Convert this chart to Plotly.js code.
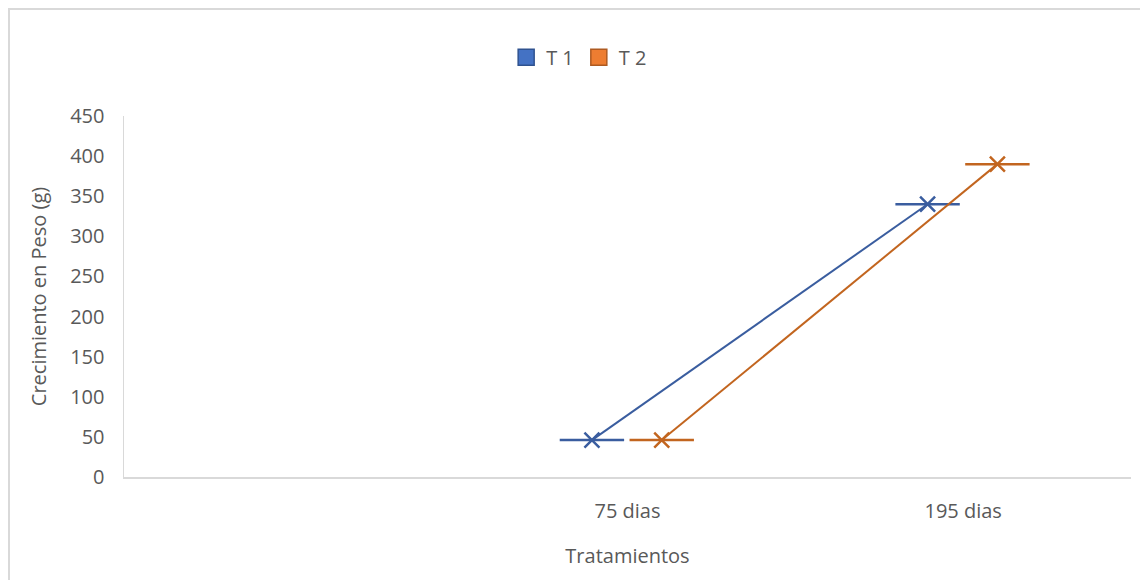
<!DOCTYPE html>
<html>
<head>
<meta charset="utf-8">
<script src="https://cdn.plot.ly/plotly-3.0.1.min.js"></script>
<style>
  html, body { margin: 0; padding: 0; background: #fff; overflow: hidden; }
  #wrap { position: relative; width: 1140px; height: 580px; }
  #chart { width: 1140px; height: 580px; }
  #frame { position: absolute; left: 8px; top: 8px; width: 1200px; height: 700px;
           border: 2px solid #d9d9d9; pointer-events: none; box-sizing: border-box; }
</style>
</head>
<body>
<div id="wrap">
  <div id="chart"></div>
  <div id="frame"></div>
</div>
<script>
// ---- data ----
const categories = ['', '75 dias', '195 dias'];
const seriesNames = ['T 1', 'T 2'];
const t1Values = [null, 46, 340];
const t2Values = [null, 46, 390];

// ---- styling ----
const lineColors = ['#3A5D9F', '#C2651F'];
const fillColors = ['#4472C4', '#ED7D31'];
const borderColors = ['#2F528F', '#AE5A21'];
const groupOffset = [-0.106, 0.102];
const font = '"Open Sans", Lato, sans-serif';
const textColor = '#595959';

const idx = categories.map((c, i) => i);
const allValues = [t1Values, t2Values];
const traces = [];

allValues.forEach((vals, s) => {
  const xs = [], ys = [];
  vals.forEach((v, i) => { if (v !== null) { xs.push(idx[i] + groupOffset[s]); ys.push(v); } });
  // horizontal dash marker
  traces.push({
    type: 'scatter', mode: 'markers', x: xs, y: ys, showlegend: false, hoverinfo: 'skip',
    marker: { symbol: 'line-ew', size: 46, line: { color: lineColors[s], width: 2.5 } }
  });
  // line with X markers
  traces.push({
    type: 'scatter', mode: 'lines+markers', x: xs, y: ys, showlegend: false, name: seriesNames[s],
    line: { color: lineColors[s], width: 2 },
    marker: { symbol: 'x-thin', size: 15, line: { color: lineColors[s], width: 2.5 } }
  });
  // legend entry (square swatch)
  traces.push({
    type: 'scatter', mode: 'markers', x: [null], y: [null], name: seriesNames[s], showlegend: true,
    marker: { symbol: 'square', size: 16, color: fillColors[s], line: { color: borderColors[s], width: 1.5 } }
  });
});

const layout = {
  width: 1140, height: 580,
  margin: { l: 124, r: 9, t: 116, b: 103 },
  paper_bgcolor: '#ffffff', plot_bgcolor: '#ffffff',
  font: { family: font, color: textColor, size: 20 },
  showlegend: true,
  legend: {
    orientation: 'h', x: 0.452, xanchor: 'center', y: 1.163, yanchor: 'middle',
    font: { family: font, color: textColor, size: 20 }, traceorder: 'normal',
    itemwidth: 30, itemsizing: 'trace'
  },
  xaxis: {
    type: 'linear', range: [-0.5, 2.5],
    tickvals: idx, ticktext: categories, ticks: '', ticklen: 0,
    showgrid: false, zeroline: false,
    showline: true, linecolor: '#d9d9d9', linewidth: 1.5,
    ticklabelstandoff: 15,
    tickfont: { family: font, color: textColor, size: 20 },
    title: { text: 'Tratamientos', font: { family: font, color: textColor, size: 20 }, standoff: 26 },
    fixedrange: true
  },
  yaxis: {
    range: [0, 450], dtick: 50, tick0: 0,
    showgrid: false, zeroline: false,
    showline: true, linecolor: '#d9d9d9', linewidth: 1.5,
    ticks: '', ticklabelstandoff: 14,
    tickfont: { family: font, color: textColor, size: 20 },
    title: { text: 'Crecimiento en Peso (g)', font: { family: font, color: textColor, size: 20 }, standoff: 18 },
    fixedrange: true
  }
};

Plotly.newPlot('chart', traces, layout, { displayModeBar: false, staticPlot: true });
</script>
</body>
</html>
